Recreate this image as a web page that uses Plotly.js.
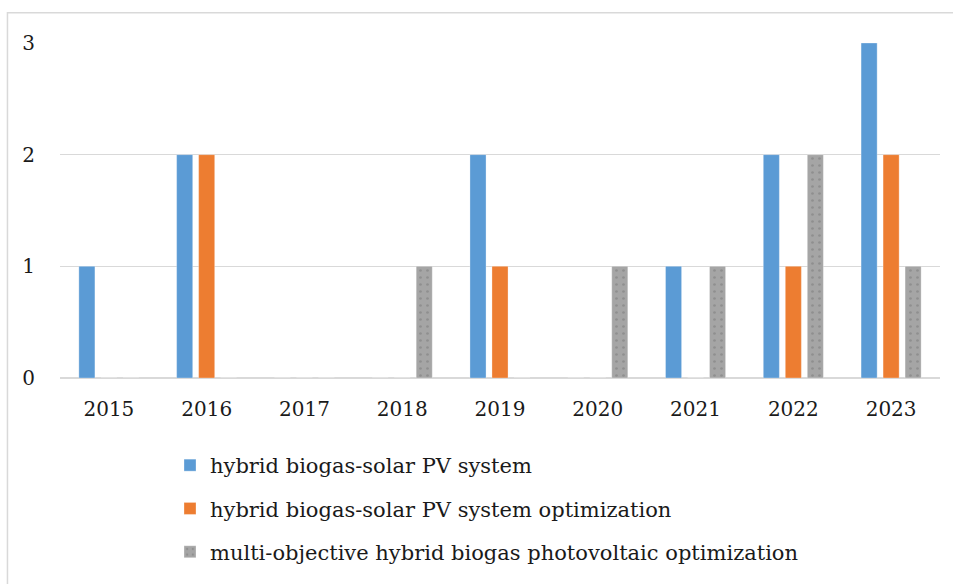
<!DOCTYPE html>
<html>
<head>
<meta charset="utf-8">
<script src="https://cdn.plot.ly/plotly-3.0.1.min.js"></script>
<style>html,body{margin:0;padding:0;background:#fff;}#chart{width:953px;height:584px;}</style>
</head>
<body>
<div id="chart"></div>
<script>
const years = ['2015','2016','2017','2018','2019','2020','2021','2022','2023'];
const seriesNames = [
  'hybrid biogas-solar PV system',
  'hybrid biogas-solar PV system optimization',
  'multi-objective hybrid biogas photovoltaic optimization'
];
const pvSystem = [1, 2, 0, 0, 2, 0, 1, 2, 3];
const pvOptimization = [0, 2, 0, 0, 1, 0, 0, 1, 2];
const multiObjective = [0, 0, 0, 1, 0, 1, 1, 2, 1];
const yTicks = [0, 1, 2, 3];

const colors = ['#5B9BD5', '#ED7D31', '#A5A5A5'];
const values = [pvSystem, pvOptimization, multiObjective];
const fontFam = 'DejaVu Serif, Liberation Serif, serif';

const traces = values.map((v, i) => {
  const t = {
    type: 'bar',
    name: seriesNames[i],
    x: years,
    y: v,
    legendgroup: 'g' + i,
    marker: {color: colors[i], line: {color: 'rgba(255,255,255,0.6)', width: 0.5}},
    hoverinfo: 'x+y+name'
  };
  if (i === 2) {
    t.marker.pattern = {shape: '.', fgcolor: '#8f8f8f', bgcolor: colors[i], size: 7, solidity: 0.12};
  }
  return t;
});

const layout = {
  width: 953,
  height: 584,
  margin: {l: 60, r: 13, t: 43, b: 204},
  paper_bgcolor: '#ffffff',
  plot_bgcolor: '#ffffff',
  font: {family: fontFam, size: 20, color: '#1a1a1a'},
  barmode: 'group',
  bargap: 0.325,
  bargroupgap: 0.27,
  showlegend: true,
  legend: {
    orientation: 'v',
    x: 0.125, xanchor: 'left',
    y: -0.2, yanchor: 'top',
    tracegroupgap: 13,
    font: {family: fontFam, size: 21, color: '#1a1a1a'},
    bgcolor: 'rgba(0,0,0,0)'
  },
  xaxis: {
    type: 'category',
    showgrid: false,
    showline: false,
    zeroline: false,
    ticks: '',
    ticklabelstandoff: 17,
    tickfont: {size: 20}
  },
  yaxis: {
    range: [0, 3],
    tickvals: yTicks,
    ticktext: yTicks.map(String),
    showgrid: true,
    gridcolor: '#D9D9D9',
    gridwidth: 1.5,
    zeroline: true,
    zerolinecolor: '#D9D9D9',
    zerolinewidth: 1.5,
    showline: false,
    ticks: '',
    ticklabelstandoff: 24,
    tickfont: {size: 20}
  },
  shapes: [{
    type: 'rect', xref: 'paper', yref: 'paper',
    x0: -0.0597, x1: 1.03, y0: -0.65, y1: 1.0905,
    line: {color: '#D9D9D9', width: 1.5},
    fillcolor: 'rgba(0,0,0,0)',
    layer: 'below'
  }]
};

Plotly.newPlot('chart', traces, layout, {displayModeBar: false, staticPlot: true});
</script>
</body>
</html>
